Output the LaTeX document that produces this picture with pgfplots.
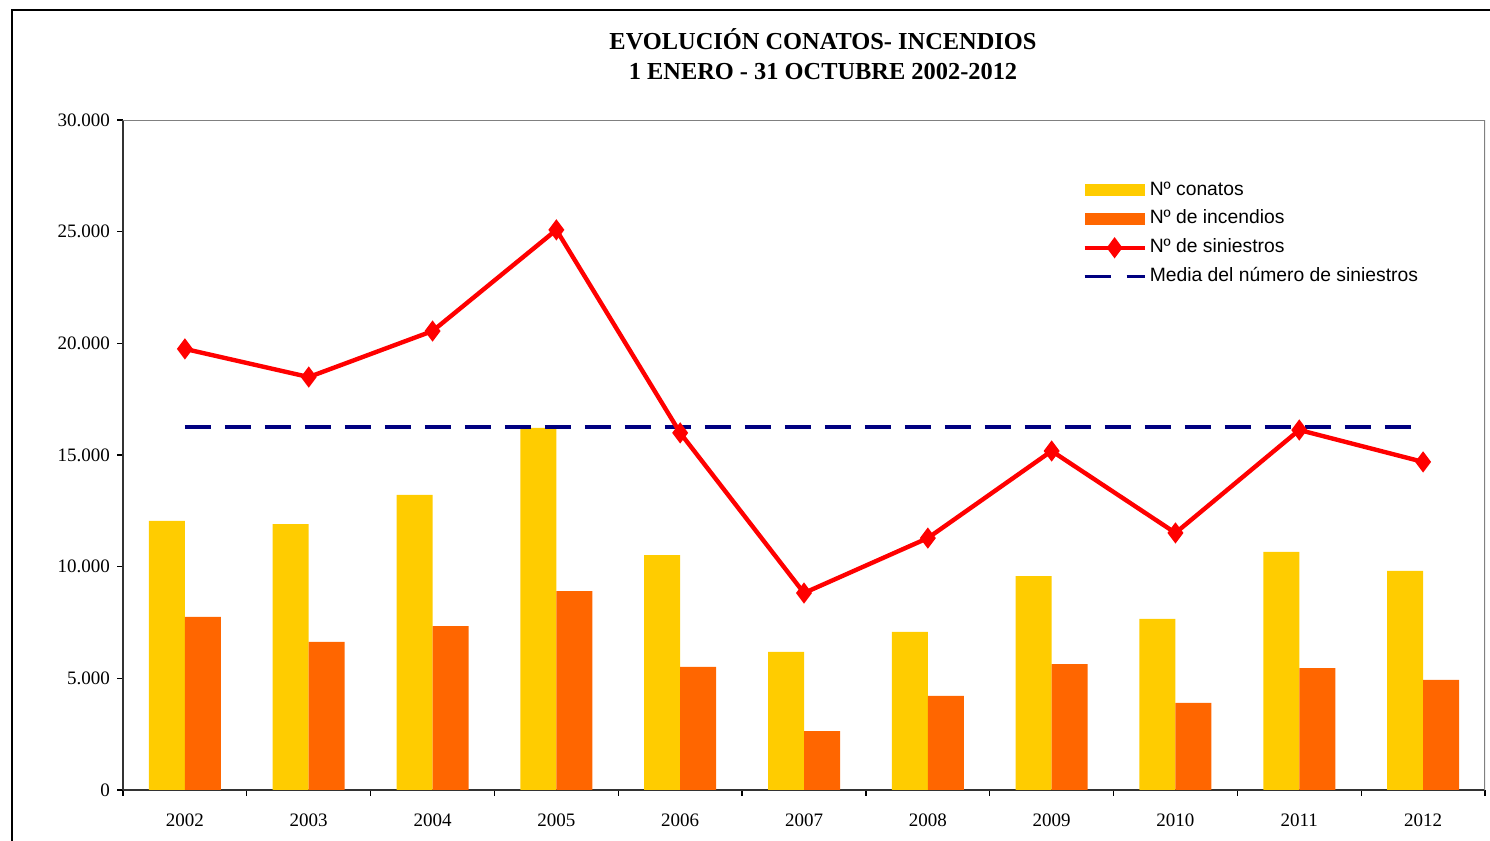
\documentclass[border=0pt]{standalone}
\usepackage{fontspec}
\setmainfont{Liberation Serif}
\newfontfamily\legfont{Liberation Sans}
\usepackage{pgfplots}
\pgfplotsset{compat=1.18}
\definecolor{conatos}{HTML}{FFCC00}
\definecolor{incendios}{HTML}{FF6600}
\definecolor{siniestros}{HTML}{FF0000}
\definecolor{media}{HTML}{000080}
\begin{document}
\begin{tikzpicture}
\path[use as bounding box] (0,0) rectangle (745pt,420.5pt);
\draw[line width=0.9pt] (6pt,0) -- (6pt,415.5pt) -- (745pt,415.5pt);
\node[font=\bfseries\fontsize{12.2}{14}\selectfont, anchor=base] at (411.5pt,395.5pt) {EVOLUCIÓN CONATOS- INCENDIOS};
\node[font=\bfseries\fontsize{12.2}{14}\selectfont, anchor=base] at (411.5pt,380.5pt) {1 ENERO - 31 OCTUBRE 2002-2012};
\begin{axis}[
  at={(61.5pt,25.5pt)}, anchor=south west,
  scale only axis, width=681pt, height=335pt,
  xmin=-0.5, xmax=10.5, ymin=0, ymax=30000,
  axis x line*=bottom, axis y line*=left,
  axis line style={line width=0.8pt, black!80},
  ytick={0,5000,...,30000},
  scaled y ticks=false,
  /pgf/number format/1000 sep={.},
  /pgf/number format/assume math mode=true,
  xtick={-0.5,0.5,...,10.5},
  x tick label as interval,
  xticklabels={2002,2003,2004,2005,2006,2007,2008,2009,2010,2011,2012},
  tick align=outside,
  major tick length=3pt,
  tick style={black, line width=0.6pt},
  ticklabel style={font=\fontsize{9.5}{11}\selectfont},
  xticklabel style={yshift=-5.5pt},
  yticklabel style={xshift=0pt},
  legend style={draw=none, fill=none, at={(0.7041,0.909)}, anchor=north west,
    font=\legfont\fontsize{9.65}{11}\selectfont, cells={anchor=west},
    row sep=5.3pt, inner sep=0pt,
    nodes={inner xsep=1.5pt, inner ysep=0pt, text height=7pt, text depth=2pt}},
]
\addplot[fill=conatos, draw=none, ybar, bar width=18pt, bar shift=-9pt,
  legend image code/.code={\fill[conatos] (0pt,-3pt) rectangle (30pt,3pt);}]
  coordinates {(0,12050) (1,11910) (2,13210) (3,16210) (4,10520) (5,6180) (6,7080) (7,9580) (8,7660) (9,10660) (10,9810)};
\addlegendentry{Nº conatos}
\addplot[fill=incendios, draw=none, ybar, bar width=18pt, bar shift=9pt,
  legend image code/.code={\fill[incendios] (0pt,-3pt) rectangle (30pt,3pt);}]
  coordinates {(0,7750) (1,6630) (2,7340) (3,8910) (4,5510) (5,2640) (6,4210) (7,5640) (8,3900) (9,5460) (10,4930)};
\addlegendentry{Nº de incendios}
\addplot[media, line width=1.7pt, dash pattern=on 13pt off 7pt, forget plot]
  coordinates {(0,16250) (1,16250) (2,16250) (3,16250) (4,16250) (5,16250) (6,16250) (7,16250) (8,16250) (9,16250) (10,16250)};
\addplot[siniestros, line width=2.2pt, mark=diamond*, mark size=3.5pt, mark options={solid},
  legend image code/.code={\draw[siniestros, line width=2.2pt] (0pt,0pt) -- (30pt,0pt);
    \fill[siniestros] (15pt,0pt) +(0,3.5pt) -- +(2.6pt,0) -- +(0,-3.5pt) -- +(-2.6pt,0) -- cycle;}]
  coordinates {(0,19750) (1,18490) (2,20550) (3,25080) (4,15990) (5,8820) (6,11280) (7,15180) (8,11510) (9,16120) (10,14690)};
\addlegendentry{Nº de siniestros}
\addlegendimage{legend image code/.code={\draw[media, line width=1.7pt] (0pt,0pt) -- (13pt,0pt) (21pt,0pt) -- (30pt,0pt);}}
\addlegendentry{Media del número de siniestros}
\draw[gray, line width=0.8pt] (rel axis cs:0,1) -- (rel axis cs:1,1) -- (rel axis cs:1,0);
\end{axis}
\end{tikzpicture}
\end{document}
